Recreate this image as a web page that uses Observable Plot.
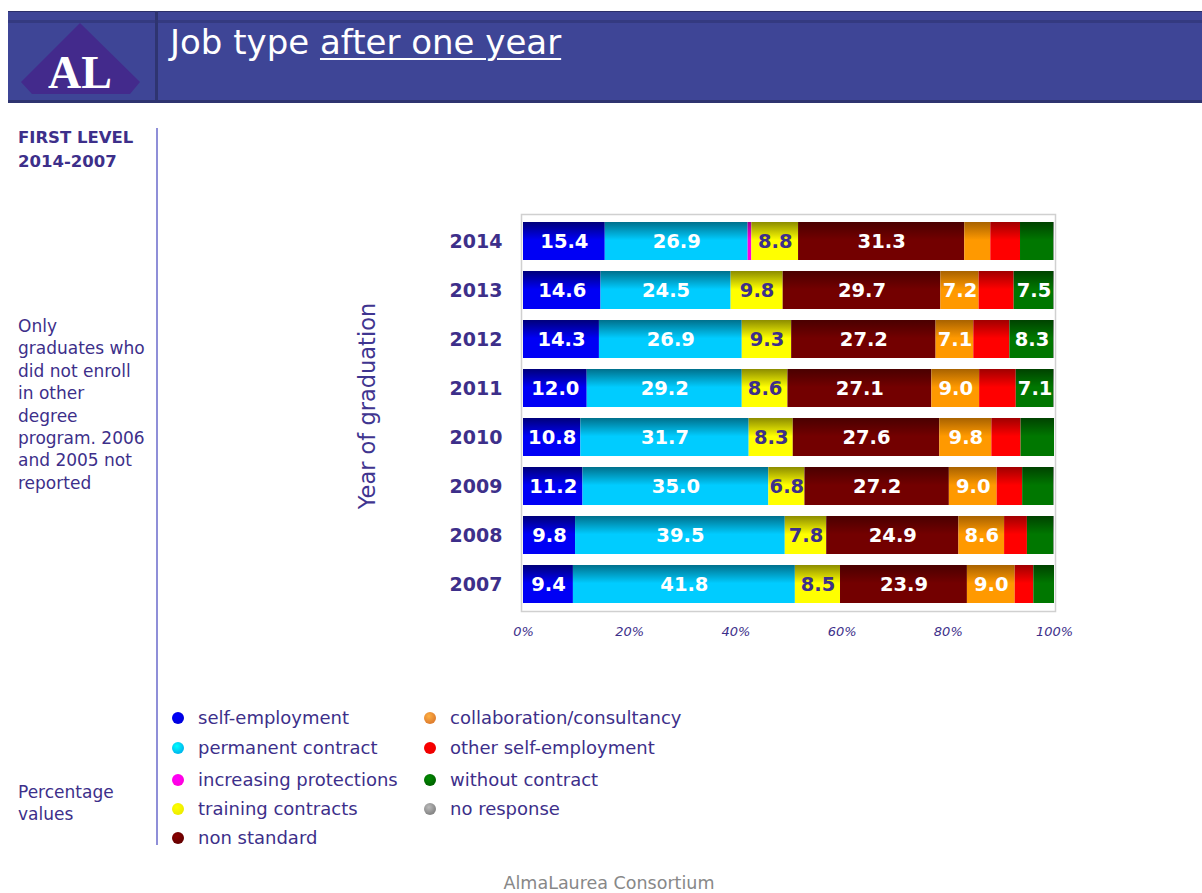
<!DOCTYPE html>
<html>
<head>
<meta charset="utf-8">
<script src="https://cdn.jsdelivr.net/npm/d3@7"></script>
<script src="https://cdn.jsdelivr.net/npm/@observablehq/plot@0.6"></script>
<style>
  html, body { margin: 0; padding: 0; background: #fff; }
  #page { position: relative; width: 1202px; height: 893px; overflow: hidden; font-family: "DejaVu Sans", sans-serif; color: #3d2f8a; }
  .abs { position: absolute; }
  #header { left: 8px; top: 11px; width: 1194px; height: 92px; background: #3e4596; }
  #hdrTop { left: 8px; top: 11px; width: 1194px; height: 1px; background: #2b2f6a; }
  #hdrBand { left: 8px; top: 20px; width: 1194px; height: 3px; background: #343a80; }
  #hdrBot { left: 8px; top: 100px; width: 1194px; height: 3px; background: #2e3470; }
  #hdrSep { left: 155px; top: 11px; width: 3px; height: 89px; background: #2e3470; }
  #title { left: 170px; top: 19px; font-size: 34px; color: #fff; white-space: nowrap; line-height: 46px; }
  #title u { text-decoration-thickness: 2px; text-underline-offset: 4px; }
  #divider { left: 156px; top: 128px; width: 2px; height: 717px; background: #8f8fd8; }
  .side { left: 18px; font-size: 17px; line-height: 22.4px; }
  #level { top: 126px; font-weight: bold; font-size: 16.5px; line-height: 24px; }
  #note { top: 315px; width: 135px; }
  #pct { top: 781px; }
  #ytitle { left: 367px; top: 406px; font-size: 22.5px; color: #3f3590; white-space: nowrap; transform: translate(-50%, -50%) rotate(-90deg); }
  #chart { left: 340px; top: 200px; }
  .leg { font-size: 18px; white-space: nowrap; line-height: 22px; display: flex; align-items: center; }
  .dot { width: 12px; height: 12px; border-radius: 50%; display: inline-block; margin-right: 14px; }
  #footer { left: 0; width: 1218px; top: 873px; text-align: center; font-size: 17.5px; color: #888; }
</style>
</head>
<body>
<div id="page">
  <div id="header" class="abs"></div>
  <div id="hdrTop" class="abs"></div>
  <div id="hdrBand" class="abs"></div>
  <div id="hdrBot" class="abs"></div>
  <div id="hdrSep" class="abs"></div>
  <svg class="abs" style="left:0;top:0" width="160" height="100">
    <polygon points="21,82 80,23 140,82 130,94 32,94" fill="#432a8c"></polygon>
    <text x="80" y="88" text-anchor="middle" font-family="Liberation Serif, serif" font-weight="bold" font-size="46" fill="#fff">AL</text>
  </svg>
  <div id="title" class="abs">Job type <u>after one year</u></div>
  <div id="divider" class="abs"></div>
  <div id="level" class="abs side">FIRST LEVEL<br>2014-2007</div>
  <div id="note" class="abs side">Only<br>graduates who<br>did not enroll<br>in other<br>degree<br>program. 2006<br>and 2005 not<br>reported</div>
  <div id="pct" class="abs side">Percentage<br>values</div>
  <div id="ytitle" class="abs">Year of graduation</div>
  <div id="chart" class="abs"></div>
  <div id="legend"></div>
  <div id="footer" class="abs">AlmaLaurea Consortium</div>
  <svg width="0" height="0" style="position:absolute">
    <defs id="grads"></defs>
  </svg>
</div>
<script>
// ---- data ----
const years = ["2014", "2013", "2012", "2011", "2010", "2009", "2008", "2007"];
const seriesNames = ["self-employment", "permanent contract", "increasing protections", "training contracts", "non standard", "collaboration/consultancy", "other self-employment", "without contract", "no response"];
const selfEmployment      = [15.4, 14.6, 14.3, 12.0, 10.8, 11.2, 9.8, 9.4];
const permanentContract   = [26.9, 24.5, 26.9, 29.2, 31.7, 35.0, 39.5, 41.8];
const increasingProtect   = [0.7, 0, 0, 0, 0, 0, 0, 0];
const trainingContracts   = [8.8, 9.8, 9.3, 8.6, 8.3, 6.8, 7.8, 8.5];
const nonStandard         = [31.3, 29.7, 27.2, 27.1, 27.6, 27.2, 24.9, 23.9];
const collaboration       = [4.9, 7.2, 7.1, 9.0, 9.8, 9.0, 8.6, 9.0];
const otherSelfEmployment = [5.6, 6.6, 6.8, 6.9, 5.5, 4.8, 4.3, 3.5];
const withoutContract     = [6.3, 7.5, 8.3, 7.1, 6.3, 5.9, 5.0, 3.9];
const noResponse          = [0.1, 0.1, 0.1, 0.1, 0, 0.1, 0.1, 0];
const xTicks = [0, 20, 40, 60, 80, 100];
// labelled series (the reference prints values only on these)
const labelledSeries = ["self-employment", "permanent contract", "training contracts", "non standard", "collaboration/consultancy", "without contract"];

// ---- styles ----
const barColors  = ["#0000f5", "#00ccff", "#ff00dd", "#ffff00", "#730000", "#ff9900", "#ff0000", "#007700", "#888888"];
const topColors  = ["#00007a", "#00708c", "#a00090", "#8c8c00", "#4a0000", "#a86200", "#a00000", "#004200", "#555555"];
const dotColors  = ["#0000dd", "#00bbee", "#ff00dd", "#eeee00", "#660000", "#e08030", "#ee0000", "#006600", "#888888"];
const purple = "#3d2f8a";

const seriesValues = [selfEmployment, permanentContract, increasingProtect, trainingContracts, nonStandard, collaboration, otherSelfEmployment, withoutContract, noResponse];

// gradients
const defs = document.getElementById("grads");
seriesNames.forEach((s, i) => {
  const g = document.createElementNS("http://www.w3.org/2000/svg", "linearGradient");
  g.setAttribute("id", "g" + i);
  g.setAttribute("x1", "0"); g.setAttribute("y1", "0"); g.setAttribute("x2", "0"); g.setAttribute("y2", "1");
  [[0, topColors[i]], [0.48, barColors[i]], [1, barColors[i]]].forEach(([o, c]) => {
    const st = document.createElementNS("http://www.w3.org/2000/svg", "stop");
    st.setAttribute("offset", o); st.setAttribute("stop-color", c);
    g.appendChild(st);
  });
  defs.appendChild(g);
});

const data = [];
seriesNames.forEach((s, i) => {
  years.forEach((y, j) => {
    data.push({year: y, series: s, value: seriesValues[i][j], idx: i});
  });
});

const stackOpts = {x: "value", y: "year", z: "series", order: seriesNames};

const chart = Plot.plot({
  width: 740,
  height: 450,
  marginLeft: 183,
  marginRight: 26,
  marginTop: 14,
  marginBottom: 39,
  style: {fontFamily: "DejaVu Sans, sans-serif", background: "transparent"},
  x: {domain: [0, 100]},
  y: {domain: years, paddingInner: 0.22, paddingOuter: 0.1},
  marks: [
    Plot.frame({stroke: "#d0d0d0", strokeWidth: 1.5, insetLeft: -2, insetRight: -1}),
    Plot.barX(data, Plot.stackX({...stackOpts, fill: d => `url(#g${d.idx})`})),
    Plot.text(data, Plot.stackX({
      ...stackOpts,
      text: d => (d.value >= 6.8 && labelledSeries.includes(d.series)) ? d.value.toFixed(1) : "",
      fill: d => d.series === "training contracts" ? purple : "#ffffff",
      fontSize: 19.5,
      fontWeight: "bold"
    })),
    Plot.axisY({tickSize: 0, tickPadding: 21, fontSize: 19, fontWeight: "bold", color: purple, label: null}),
    Plot.axisX({ticks: xTicks, tickFormat: d => d + "%", tickSize: 0, tickPadding: 15, fontSize: 13, fontStyle: "italic", color: purple, label: null})
  ]
});
document.getElementById("chart").appendChild(chart);

// legend
const legend = document.getElementById("legend");
const legendPos = [
  [178, 718], [178, 748], [178, 780], [178, 809], [178, 838],
  [430, 718], [430, 748], [430, 780], [430, 809]
];
seriesNames.forEach((s, i) => {
  const el = document.createElement("div");
  el.className = "abs leg";
  el.style.left = (legendPos[i][0] - 6) + "px";
  el.style.top = (legendPos[i][1] - 11) + "px";
  const dot = document.createElement("span");
  dot.className = "dot";
  dot.style.background = `radial-gradient(circle at 40% 35%, ${d3.color(dotColors[i]).brighter(0.9)}, ${dotColors[i]} 65%)`;
  el.appendChild(dot);
  el.appendChild(document.createTextNode(s));
  legend.appendChild(el);
});
</script>
</body>
</html>
